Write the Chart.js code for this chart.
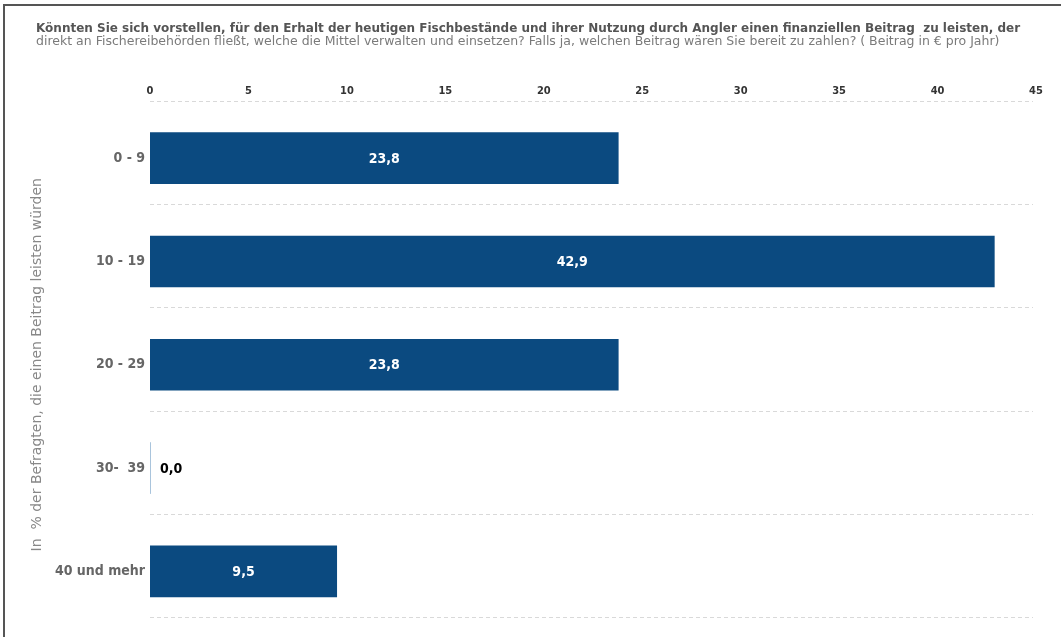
<!DOCTYPE html>
<html lang="de">
<head>
  <meta charset="UTF-8">
  <title>Fischbestände Beitrag</title>
  <script src="https://cdn.jsdelivr.net/npm/chart.js"></script>
  <style>
    html, body { margin: 0; padding: 0; background: #fff; }
    #frame {
      position: absolute; left: 3px; top: 4px;
      width: 1058px; height: 633px;
      border-left: 2px solid #555; border-top: 2px solid #555;
    }
    #wrap { position: absolute; left: 0; top: 0; width: 1056px; height: 631px; }
  </style>
</head>
<body>
  <div id="frame"><div id="wrap"><canvas id="chart"></canvas></div></div>

  <script>
    // Daten
    var kategorien = ['0 - 9', '10 - 19', '20 - 29', '30-  39', '40 und mehr'];
    var werte = [23.8, 42.9, 23.8, 0.0, 9.5];
    var xTicks = [0, 5, 10, 15, 20, 25, 30, 35, 40, 45];

    var titel = 'Könnten Sie sich vorstellen, für den Erhalt der heutigen Fischbestände und ihrer Nutzung durch Angler einen finanziellen Beitrag  zu leisten, der';
    var untertitel = 'direkt an Fischereibehörden fließt, welche die Mittel verwalten und einsetzen? Falls ja, welchen Beitrag wären Sie bereit zu zahlen? ( Beitrag in € pro Jahr)';
    var yTitel = 'In  % der Befragten, die einen Beitrag leisten würden';

    var schmal = "'DejaVu Sans Condensed', 'Liberation Sans Narrow', sans-serif";
    var breit = "'DejaVu Sans', sans-serif";

    function fmt(v) { return v.toFixed(1).replace('.', ','); }

    // gestrichelte Trennlinien zwischen den Kategorien
    var linienPlugin = {
      id: 'trennlinien',
      beforeDatasetsDraw: function(chart) {
        var ctx = chart.ctx;
        var y = chart.scales.y;
        var area = chart.chartArea;
        var schritt = y.height / kategorien.length;
        ctx.save();
        ctx.strokeStyle = '#d9d9d9';
        ctx.lineWidth = 1;
        ctx.setLineDash([4, 3]);
        for (var i = 0; i <= kategorien.length; i++) {
          var py = Math.round(y.getPixelForValue(i) - schritt / 2 - schritt * 0.055) + 0.5;
          ctx.beginPath();
          ctx.moveTo(area.left, py);
          ctx.lineTo(area.right - 3, py);
          ctx.stroke();
        }
        ctx.restore();
      }
    };

    // Werte in die Balken schreiben
    var labelPlugin = {
      id: 'wertLabels',
      afterDatasetsDraw: function(chart) {
        var ctx = chart.ctx;
        var meta = chart.getDatasetMeta(0);
        ctx.save();
        ctx.font = 'bold 14px ' + schmal;
        ctx.textBaseline = 'middle';
        meta.data.forEach(function(bar, i) {
          var v = werte[i];
          if (v === 0) {
            // duenne Linie fuer den Nullwert
            ctx.strokeStyle = '#a9c4dc';
            ctx.lineWidth = 1;
            ctx.beginPath();
            ctx.moveTo(bar.base + 0.5, bar.y - bar.height / 2);
            ctx.lineTo(bar.base + 0.5, bar.y + bar.height / 2);
            ctx.stroke();
            ctx.fillStyle = '#000';
            ctx.textAlign = 'left';
            ctx.fillText(fmt(v), bar.base + 10, bar.y + 1);
          } else {
            ctx.fillStyle = '#fff';
            ctx.textAlign = 'center';
            ctx.fillText(fmt(v), (bar.x + bar.base) / 2, bar.y + 1);
          }
        });
        ctx.restore();
      }
    };

    var ctx = document.getElementById('chart').getContext('2d');
    var chart = new Chart(ctx, {
      type: 'bar',
      data: {
        labels: kategorien,
        datasets: [{
          data: werte,
          backgroundColor: '#0b4a80',
          barPercentage: 0.5,
          categoryPercentage: 1.0
        }]
      },
      options: {
        indexAxis: 'y',
        responsive: true,
        maintainAspectRatio: false,
        animation: false,
        layout: { padding: { left: 31, right: 25, top: 0, bottom: 14 } },
        plugins: {
          legend: { display: false },
          tooltip: { enabled: false },
          title: {
            display: true,
            text: titel,
            align: 'start',
            color: '#555',
            font: { family: breit, size: 12, weight: 'bold', lineHeight: 1 },
            padding: { top: 17, bottom: 0 }
          },
          subtitle: {
            display: true,
            text: untertitel,
            align: 'start',
            color: '#7a7a7a',
            font: { family: breit, size: 12.5, weight: 'normal', lineHeight: 1 },
            padding: { top: 0, bottom: 0 }
          }
        },
        scales: {
          x: {
            position: 'top',
            min: 0,
            max: 45,
            afterBuildTicks: function(s) {
              s.ticks = xTicks.map(function(v) { return { value: v }; });
            },
            afterFit: function(s) { s.height = 59; },
            grid: { display: false, drawTicks: false },
            border: { display: false },
            ticks: {
              color: '#333',
              padding: 9,
              font: { family: schmal, size: 11, weight: 'bold' }
            }
          },
          y: {
            afterFit: function(s) { s.width = 114; },
            grid: { display: false, drawTicks: false },
            border: { display: false },
            ticks: {
              color: '#666',
              padding: 5,
              font: { family: schmal, size: 14, weight: 'bold' }
            },
            title: {
              display: true,
              text: yTitel,
              color: '#888',
              padding: { top: -7, bottom: 0 },
              font: { family: breit, size: 14, weight: 'normal' }
            }
          }
        }
      },
      plugins: [linienPlugin, labelPlugin]
    });
  </script>
</body>
</html>
